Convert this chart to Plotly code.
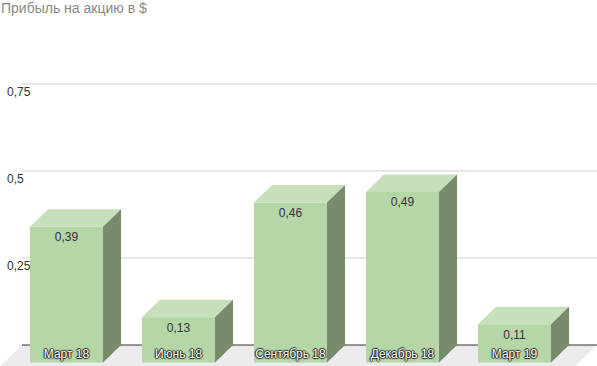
import plotly.graph_objects as go

# ---- data ----
categories = ["Март 18", "Июнь 18", "Сентябрь 18", "Декабрь 18", "Март 19"]
values = [0.39, 0.13, 0.46, 0.49, 0.11]
value_labels = ["0,39", "0,13", "0,46", "0,49", "0,11"]
y_ticks = [0.25, 0.5, 0.75]
y_tick_labels = ["0,25", "0,5", "0,75"]
title_text = "Прибыль на акцию в $"

# ---- geometry (pixels -> axis units) ----
W, H = 597, 366
X0_PX, PX_PER_CAT = 66.5, 112.0        # front-face center of category 0, category spacing
BACK_ZERO_PX, PX_PER_UNIT = 345.0, 348.0
DEPTH_X = 18.0 / PX_PER_CAT
DEPTH_Y = 17.5 / PX_PER_UNIT
HALF_W = 36.5 / PX_PER_CAT

def px_to_x(p):
    return (p - X0_PX) / PX_PER_CAT

def px_to_y(p):
    return (BACK_ZERO_PX - p) / PX_PER_UNIT

x_range = [px_to_x(0), px_to_x(W)]
y_range = [px_to_y(H), px_to_y(0)]

FRONT = "#b5d6a7"
TOP = "#c6e0b9"
SIDE = "#788b6b"

fig = go.Figure()

xs = list(range(len(categories)))

# front faces
fig.add_trace(go.Bar(
    x=xs, y=values, base=[-DEPTH_Y] * len(values), width=2 * HALF_W,
    marker=dict(color=FRONT, line=dict(width=0)), hoverinfo="skip", showlegend=False,
))

# top and side faces
for i, v in zip(xs, values):
    l, r = i - HALF_W, i + HALF_W
    fig.add_trace(go.Scatter(
        x=[l, r, r + DEPTH_X, l + DEPTH_X, l],
        y=[v - DEPTH_Y, v - DEPTH_Y, v, v, v - DEPTH_Y],
        fill="toself", fillcolor=TOP, mode="lines", line=dict(width=0),
        hoverinfo="skip", showlegend=False,
    ))
    fig.add_trace(go.Scatter(
        x=[r, r, r + DEPTH_X, r + DEPTH_X, r],
        y=[-DEPTH_Y, v - DEPTH_Y, v, 0, -DEPTH_Y],
        fill="toself", fillcolor=SIDE, mode="lines", line=dict(width=0),
        hoverinfo="skip", showlegend=False,
    ))

# value labels
fig.add_trace(go.Scatter(
    x=xs, y=[v - DEPTH_Y - 11.5 / PX_PER_UNIT for v in values],
    text=value_labels, mode="text", textposition="middle center",
    textfont=dict(family="Liberation Sans, Arial", size=12, color="#333333"),
    hoverinfo="skip", showlegend=False,
))

# category labels
fig.add_trace(go.Scatter(
    x=xs, y=[px_to_y(355)] * len(xs),
    text=categories, mode="text", textposition="middle center",
    textfont=dict(family="Liberation Sans, Arial", size=12, color="#ffffff",
                  shadow="1px 0 1px #222, -1px 0 1px #222, 0 1px 1px #222, 0 -1px 1px #222"),
    hoverinfo="skip", showlegend=False,
))

shapes = []
# floor
fx_l, fx_r = px_to_x(22), px_to_x(597)
y_bottom = px_to_y(H)
slope = DEPTH_X / DEPTH_Y
shapes.append(dict(
    type="path", xref="x", yref="y", layer="below", line=dict(width=0), fillcolor="#ebebeb",
    path=f"M {fx_l},0 L {fx_r},0 L {fx_r - slope * (0 - y_bottom)},{y_bottom} "
         f"L {fx_l - slope * (0 - y_bottom)},{y_bottom} Z",
))
# gridlines
for t in y_ticks:
    shapes.append(dict(type="line", xref="x", yref="y", layer="below",
                       x0=fx_l, x1=fx_r, y0=t, y1=t, line=dict(color="#cccccc", width=1)))
# base line
shapes.append(dict(type="line", xref="x", yref="y", layer="below",
                   x0=fx_l, x1=fx_r, y0=0, y1=0, line=dict(color="#333333", width=1)))

annotations = []
for t, lab in zip(y_ticks, y_tick_labels):
    annotations.append(dict(
        x=px_to_x(5), y=t - 7.5 / PX_PER_UNIT, xref="x", yref="y", text=lab,
        showarrow=False, xanchor="left", yanchor="middle",
        font=dict(family="Liberation Sans, Arial", size=12, color="#333333"),
    ))
annotations.append(dict(
    x=0, y=1, xref="paper", yref="paper", text=title_text, showarrow=False,
    xanchor="left", yanchor="top", xshift=-1, yshift=2,
    font=dict(family="Liberation Sans, Arial", size=14, color="#888888"),
))

fig.update_layout(
    width=W, height=H, margin=dict(l=0, r=0, t=0, b=0),
    paper_bgcolor="white", plot_bgcolor="white",
    xaxis=dict(range=x_range, visible=False, fixedrange=True),
    yaxis=dict(range=y_range, visible=False, fixedrange=True),
    shapes=shapes, annotations=annotations, showlegend=False,
)

fig.write_html("out.html", config={"displayModeBar": False},
               post_script="document.body.style.margin='0';document.body.style.overflow='hidden';")
